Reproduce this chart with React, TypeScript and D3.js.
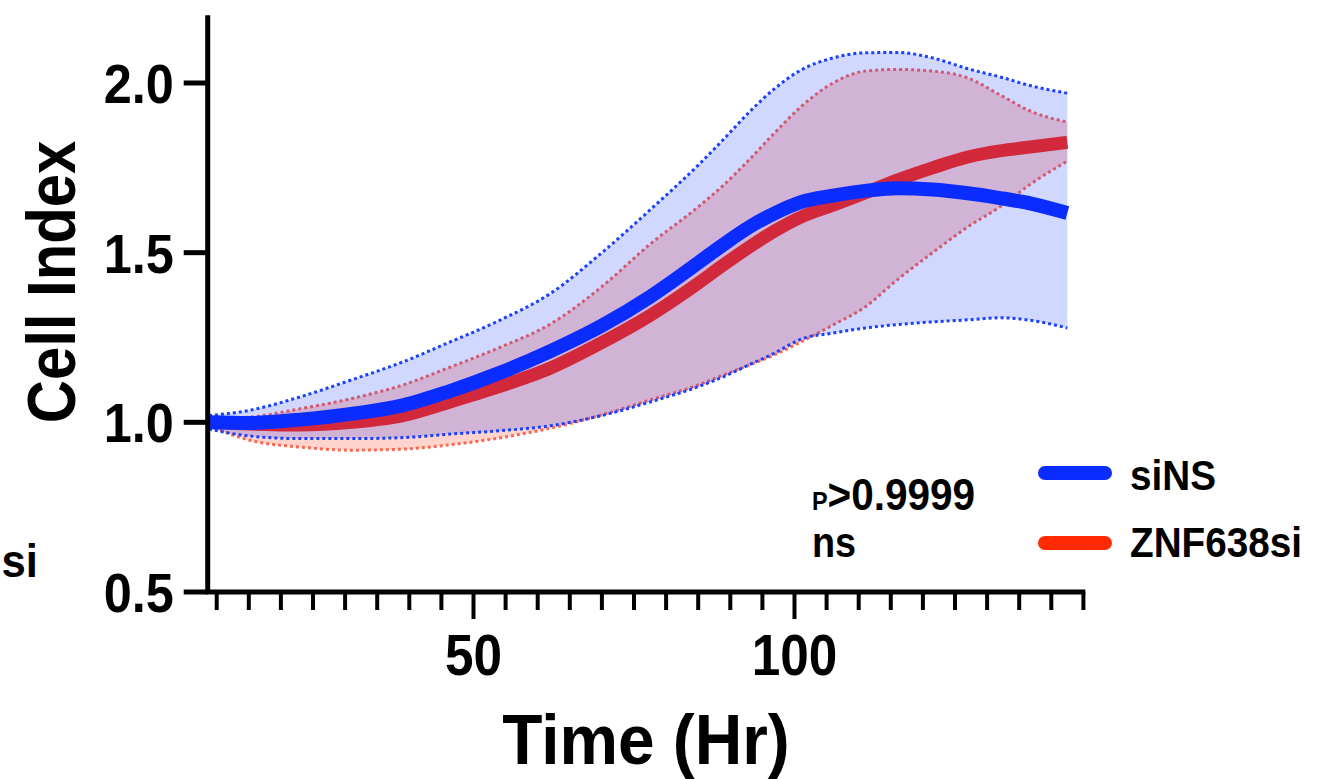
import React from "react";
import * as d3 from "d3";

const TIME = [8.8, 15, 23, 31, 39, 46, 54, 62, 70, 77.5, 85, 89, 93, 97, 101, 106, 111, 116, 121.5, 127, 132, 137, 142.5];

const SINS_MEAN = [1.0, 0.998, 1.008, 1.025, 1.05, 1.09, 1.145, 1.21, 1.285, 1.37, 1.47, 1.525, 1.576, 1.617, 1.649, 1.668, 1.682, 1.69, 1.686, 1.675, 1.661, 1.644, 1.617];
const SINS_UPPER = [1.02, 1.035, 1.075, 1.125, 1.178, 1.234, 1.3, 1.38, 1.5, 1.626, 1.758, 1.835, 1.915, 1.985, 2.038, 2.074, 2.089, 2.09, 2.074, 2.042, 2.018, 1.991, 1.97];
const SINS_LOWER = [0.98, 0.96, 0.952, 0.952, 0.955, 0.965, 0.975, 0.99, 1.02, 1.06, 1.105, 1.135, 1.17, 1.205, 1.245, 1.263, 1.278, 1.288, 1.296, 1.302, 1.308, 1.3, 1.278];

const ZNF_MEAN = [1.0, 0.995, 0.992, 1.0, 1.02, 1.058, 1.105, 1.16, 1.235, 1.315, 1.41, 1.465, 1.517, 1.565, 1.605, 1.64, 1.676, 1.714, 1.75, 1.782, 1.8, 1.812, 1.825];
const ZNF_UPPER = [1.01, 1.015, 1.04, 1.07, 1.11, 1.16, 1.22, 1.29, 1.4, 1.525, 1.635, 1.7, 1.775, 1.855, 1.93, 2.0, 2.035, 2.04, 2.035, 2.015, 1.965, 1.915, 1.885];
const ZNF_LOWER = [0.99, 0.948, 0.927, 0.918, 0.921, 0.933, 0.954, 0.983, 1.022, 1.066, 1.11, 1.14, 1.169, 1.2, 1.237, 1.287, 1.34, 1.42, 1.5, 1.576, 1.635, 1.705, 1.77];

const Y_TICKS = [0.5, 1.0, 1.5, 2.0];
const X_LABELED = [50, 100];
const X_MINOR = d3.range(10, 146, 5);
const LEGEND = ["siNS", "ZNF638si"];

const FONT = "'Liberation Sans', Arial, sans-serif";
const BLUE = "#0a2cff";
const RED = "#ff2a10";

function SText({ x, y, size, anchor = "start", sx = 0.9, children, rotate = 0 }: any) {
  return (
    <text
      transform={`translate(${x},${y}) rotate(${rotate}) scale(${sx},1)`}
      fontFamily={FONT}
      fontWeight="bold"
      fontSize={size}
      textAnchor={anchor}
      fill="#000"
    >
      {children}
    </text>
  );
}

export default function App() {
  const W = 1321, H = 779;
  const x = d3.scaleLinear().domain([50, 100]).range([473.5, 794.5]);
  const y = d3.scaleLinear().domain([0.5, 2.0]).range([592, 83]);
  const xMin = 8.6, xMax = 145.3, yMax = 2.2;

  const mk = (arr: number[]) => TIME.map((t, i) => [t, arr[i]] as [number, number]);
  const line = d3.line<[number, number]>().x(d => x(d[0])).y(d => y(d[1])).curve(d3.curveMonotoneX);
  const band = (lo: number[], hi: number[]) =>
    d3.area<number>()
      .x(i => x(TIME[i]))
      .y0(i => y(lo[i]))
      .y1(i => y(hi[i]))
      .curve(d3.curveMonotoneX)(d3.range(TIME.length)) as string;

  const axisX0 = x(xMin), axisX1 = x(xMax), axisY = y(0.5);

  return (
    <svg width={W} height={H} style={{ position: "absolute", left: 0, top: 0, background: "#fff" }}>
      <rect width={W} height={H} fill="#fff" />
      {/* ZNF638si band + line */}
      <path d={band(ZNF_LOWER, ZNF_UPPER)} fill="rgba(255,38,0,0.2)" />
      <path d={line(mk(ZNF_UPPER)) as string} fill="none" stroke="#ff6650" strokeWidth={3} strokeDasharray="3 3" />
      <path d={line(mk(ZNF_LOWER)) as string} fill="none" stroke="#ff6650" strokeWidth={3} strokeDasharray="3 3" />
      <path d={line(mk(ZNF_MEAN)) as string} fill="none" stroke={RED} strokeWidth={13} />
      {/* siNS band + line */}
      <path d={band(SINS_LOWER, SINS_UPPER)} fill="rgba(0,40,255,0.18)" />
      <path d={line(mk(SINS_UPPER)) as string} fill="none" stroke="#1a40ff" strokeWidth={3} strokeDasharray="3 3" />
      <path d={line(mk(SINS_LOWER)) as string} fill="none" stroke="#1a40ff" strokeWidth={3} strokeDasharray="3 3" />
      <path d={line(mk(SINS_MEAN)) as string} fill="none" stroke={BLUE} strokeWidth={14} />

      {/* axes */}
      <line x1={axisX0} x2={axisX0} y1={y(yMax)} y2={axisY + 2} stroke="#000" strokeWidth={5} />
      <line x1={axisX0 - 2} x2={axisX1} y1={axisY} y2={axisY} stroke="#000" strokeWidth={5} />
      {Y_TICKS.map(v => (
        <g key={v}>
          <line x1={axisX0 - 24} x2={axisX0} y1={y(v)} y2={y(v)} stroke="#000" strokeWidth={5} />
          <SText x={axisX0 - 34} y={y(v) + 20} size={56} anchor="end">{v.toFixed(1)}</SText>
        </g>
      ))}
      {X_MINOR.map(v => (
        <line key={v} x1={x(v)} x2={x(v)} y1={axisY} y2={axisY + (X_LABELED.includes(v) ? 27 : 18)} stroke="#000" strokeWidth={4} />
      ))}
      {X_LABELED.map(v => (
        <SText key={v} x={x(v)} y={675} size={57} anchor="middle">{v}</SText>
      ))}

      {/* axis titles */}
      <SText x={646} y={764} size={70} anchor="middle" sx={0.94}>Time (Hr)</SText>
      <SText x={75} y={282} size={68} anchor="middle" rotate={-90} sx={0.88}>Cell Index</SText>

      {/* stray label */}
      <SText x={38} y={577} size={46} anchor="end" sx={0.95}>si</SText>

      {/* stats */}
      <text transform="translate(812,510) scale(0.9,1)" fontFamily={FONT} fontWeight="bold" fill="#000">
        <tspan fontSize={26}>P</tspan>
        <tspan fontSize={45}>&gt;0.9999</tspan>
      </text>
      <SText x={812} y={557} size={42}>ns</SText>

      {/* legend */}
      <line x1={1045} x2={1105} y1={473} y2={473} stroke={BLUE} strokeWidth={14} strokeLinecap="round" />
      <SText x={1130} y={490} size={43}>{LEGEND[0]}</SText>
      <line x1={1045} x2={1105} y1={543} y2={543} stroke="#ff2a00" strokeWidth={14} strokeLinecap="round" />
      <SText x={1130} y={557} size={43}>{LEGEND[1]}</SText>
    </svg>
  );
}
